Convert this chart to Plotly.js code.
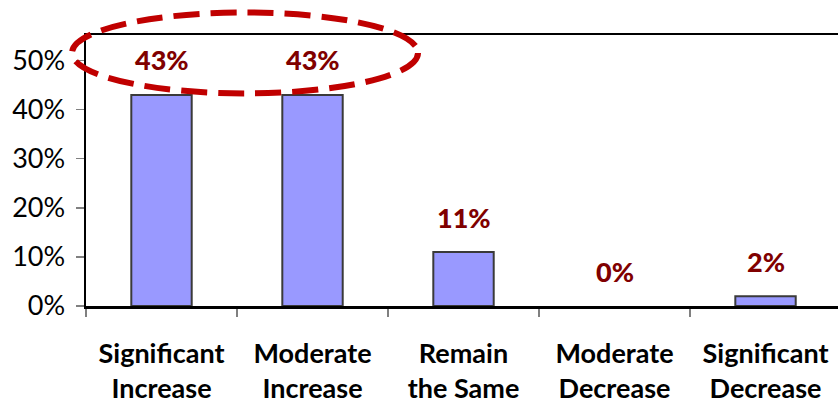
<!DOCTYPE html>
<html>
<head>
<meta charset="utf-8">
<script src="https://cdn.plot.ly/plotly-3.0.1.min.js"></script>
<style>html,body{margin:0;padding:0;background:#fff;}#chart{width:838px;height:404px;}</style>
</head>
<body>
<div id="chart"></div>
<script>
const categories = ["Significant<br>Increase", "Moderate<br>Increase", "Remain<br>the Same", "Moderate<br>Decrease", "Significant<br>Decrease"];
const values = [43, 43, 11, 0, 2];
const labels = ["43%", "43%", "11%", "0%", "2%"];
const yTicks = [0, 10, 20, 30, 40, 50];
const yTickText = ["0%", "10%", "20%", "30%", "40%", "50%"];

const trace = {
  type: "bar",
  x: categories,
  y: values,
  width: 0.4,
  marker: {color: "#9999FF", line: {color: "#3a3a3a", width: values.map(v => v > 0 ? 2 : 0)}},
  hoverinfo: "skip"
};

const annotations = categories.map((c, i) => ({
  x: c, y: values[i], xref: "x", yref: "y",
  text: labels[i], showarrow: false, yshift: 35,
  font: {family: "Lato, sans-serif", size: 27, color: "#800000", weight: 900}
}));

const layout = {
  width: 838, height: 404,
  margin: {l: 86, r: 0, t: 35, b: 98},
  paper_bgcolor: "#fff", plot_bgcolor: "#fff",
  showlegend: false,
  xaxis: {
    type: "category",
    range: [-0.5, 4.48],
    tickson: "boundaries",
    ticks: "outside", ticklen: 8, tickwidth: 1.5, tickcolor: "#808080",
    showline: true, linecolor: "#000", linewidth: 2.5, mirror: true,
    showgrid: false, zeroline: false,
    tickfont: {family: "Lato, sans-serif", size: 27, color: "#000", weight: 700},
    ticklabelstandoff: 22
  },
  yaxis: {
    range: [0, 55.2],
    tickvals: yTicks, ticktext: yTickText,
    ticks: "outside", ticklen: 8, tickwidth: 1.5, tickcolor: "#808080",
    showline: true, linecolor: "#000", linewidth: 2.5,
    showgrid: false, zeroline: false,
    tickfont: {family: "Lato, sans-serif", size: 27, color: "#000"},
    ticklabelstandoff: 5
  },
  annotations: annotations,
  shapes: [{
    type: "circle", xref: "paper", yref: "paper",
    x0: -0.0186, x1: 0.4415, y0: 0.7845, y1: 1.083,
    line: {color: "#C00000", width: 6, dash: "26px,11px"},
    layer: "above"
  }]
};

Plotly.newPlot("chart", [trace], layout, {displayModeBar: false, staticPlot: true});
</script>
</body>
</html>
